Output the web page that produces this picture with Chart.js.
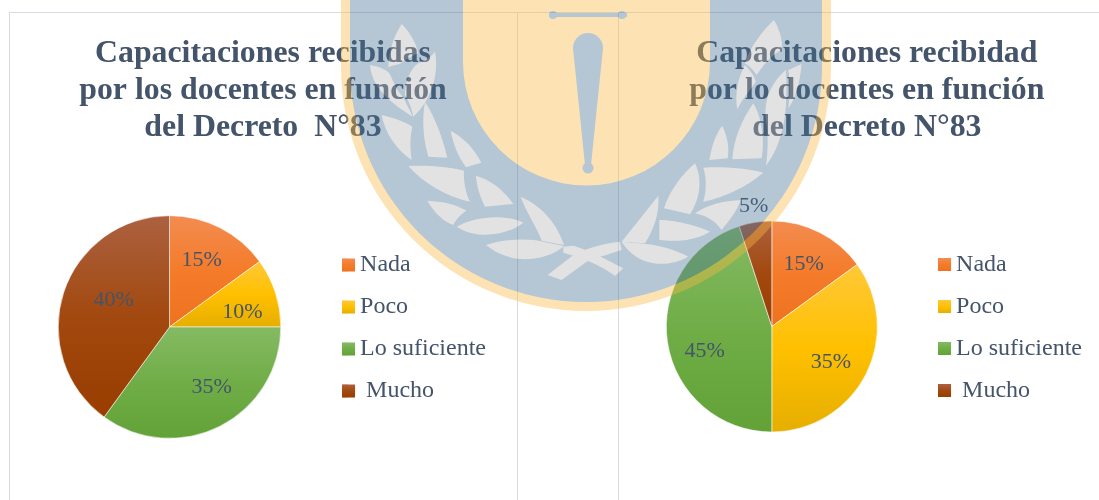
<!DOCTYPE html>
<html><head><meta charset="utf-8">
<script src="https://cdn.jsdelivr.net/npm/chart.js@4"></script>
<style>
html,body{margin:0;padding:0;background:#fff;width:1099px;height:500px;overflow:hidden}
#stage{position:relative;width:1099px;height:500px;overflow:hidden}
canvas{position:absolute;display:block}
.ln{position:absolute;background:#d5dce4}
svg{position:absolute;left:0;top:0;opacity:.4;pointer-events:none}
</style></head><body>
<div id="stage">
<div class="ln" style="left:9px;top:12px;width:1090px;height:1px"></div>
<div class="ln" style="left:9px;top:12px;width:1px;height:488px"></div>
<div class="ln" style="left:517px;top:12px;width:1px;height:488px"></div>
<div class="ln" style="left:618px;top:12px;width:1px;height:488px"></div>
<canvas id="c1" width="508" height="488" style="left:9px;top:12px"></canvas>
<canvas id="c2" width="481" height="488" style="left:618px;top:12px"></canvas>
<svg width="1099" height="500" viewBox="0 0 1099 500">
<path fill="#fab943" d="M341 0V66A245 245 0 0 0 831 66V0Z"/>
<path fill="#467093" d="M350 0V66A236 236 0 0 0 822 66V0H710V62A123.5 123.5 0 0 1 463 62V0Z"/>
<g fill="#467093">
<rect x="549" y="13" width="78" height="4"/><circle cx="553" cy="15" r="4"/><circle cx="622" cy="15" r="4"/>
<path d="M573 48A15 15 0 0 1 603 48L591 165H585Z"/><circle cx="588" cy="168" r="5.5"/>
</g>
<g fill="#b6b6b6" transform="translate(340 0) scale(.3333)">
<path d="M125 345C165 355 195 365 217 380C210 410 210 445 215 480C170 450 135 400 125 345Z"/>
<path d="M255 305C285 350 310 420 322 473L265 470C250 420 245 360 255 305Z"/>
<path d="M332 392C375 415 405 450 424 488L378 502C355 470 340 435 332 392Z"/>
<path d="M205 498C265 495 325 500 372 512C370 545 378 580 390 605C320 590 250 550 205 498Z"/>
<path d="M408 527C455 540 495 575 520 612L435 620C420 590 410 560 408 527Z"/>
<path d="M262 603C310 603 350 615 380 632C365 640 350 655 340 675C310 665 285 640 262 603Z"/>
<path d="M350 680C400 650 490 640 550 668C510 700 420 725 350 680Z"/>
<path d="M542 590C600 615 650 665 672 735L605 722C590 680 560 640 542 590Z"/>
<path d="M438 735C500 715 570 715 610 725L672 738C640 770 530 810 438 735Z"/>
<path d="M185 72C205 90 230 130 235 160C220 165 195 180 190 185C180 195 155 195 145 202C145 160 160 110 185 72Z"/>
<path d="M90 195C115 200 135 205 148 220C158 240 175 280 190 292C200 315 210 330 218 350C170 320 95 270 90 195Z"/>
<path d="M285 155C298 220 275 300 220 350C215 325 205 300 195 285C195 250 210 205 235 190C255 180 275 170 285 155Z"/>
<path d="M1302 60C1320 90 1330 125 1325 150C1295 165 1270 195 1250 225C1240 210 1230 200 1215 190C1230 140 1270 90 1302 60Z"/>
<path d="M1385 192C1380 250 1365 300 1345 325C1350 290 1350 240 1345 210Z"/>
<path d="M1338 210C1342 290 1345 410 1278 498C1285 450 1285 400 1278 360C1270 300 1295 245 1338 210Z"/>
<path d="M1240 310C1265 350 1275 420 1265 475L1177 478C1180 420 1205 360 1240 310Z"/>
<path d="M1147 377C1165 415 1168 450 1163 475L1108 480C1115 440 1125 405 1147 377Z"/>
<path d="M1215 195C1230 210 1245 230 1248 245C1230 270 1205 300 1192 328C1185 290 1190 240 1215 195Z"/>
<path d="M1090 503C1150 500 1220 505 1270 518C1220 560 1160 590 1090 605C1100 570 1100 535 1090 503Z"/>
<path d="M1065 490C1085 530 1085 590 1050 643L972 625C990 570 1025 525 1065 490Z"/>
<path d="M1203 600C1150 602 1100 615 1065 640C1110 650 1130 670 1145 690C1165 665 1190 635 1203 600Z"/>
<path d="M958 660C1010 660 1080 680 1110 695C1060 725 1000 725 958 720Z"/>
<path d="M955 587C960 640 940 690 915 730L845 725Z"/>
<path d="M845 725C880 730 960 725 1045 770C990 800 900 810 845 725Z"/>
<path d="M670 740L700 737C760 755 810 785 850 805L825 828C790 800 745 785 740 780L670 758Z"/>
<path d="M623 825L700 765C740 745 790 730 840 725L845 750C800 765 780 770 740 785L665 840Z"/>
</g>
</svg>
</div>
<script>
const categories = ['Nada', 'Poco', 'Lo suficiente', ' Mucho'];
const valuesLeft = [15, 10, 35, 40];
const valuesRight = [15, 35, 45, 5];
const titleLeft = ['Capacitaciones recibidas', 'por los docentes en función', 'del Decreto  N°83'];
const titleRight = ['Capacitaciones recibidad', 'por lo docentes en función', 'del Decreto N°83'];
const gradientStops = [
  ['#F38C50', '#F47B2A', '#EE7320'],
  ['#FFC838', '#FFC000', '#E6AE00'],
  ['#85BA63', '#70AD47', '#62A237'],
  ['#AC6140', '#A2490F', '#993D00']
];
const labelOffsetsLeft = [[7, -17], [20, 2], [17, 11], [-3, -10]];
const labelOffsetsRight = [[8, -15], [12, 12], [-15, 16], [-10, -68]];
const FONT = '"Liberation Serif", "Times New Roman", serif';
const TEXT = '#44546A';

function makeGrad(ctx, y0, y1, stops) {
  const g = ctx.createLinearGradient(0, y0, 0, y1);
  g.addColorStop(0, stops[0]); g.addColorStop(.5, stops[1]); g.addColorStop(1, stops[2]);
  return g;
}
function sliceFill(c) {
  const chart = c.chart, data = chart.data.datasets[0].data, i = c.dataIndex, area = chart.chartArea;
  if (!area) return gradientStops[i][1];
  const total = data.reduce((a, b) => a + b, 0);
  const before = data.slice(0, i).reduce((a, b) => a + b, 0);
  const a0 = before / total * 2 * Math.PI, a1 = (before + data[i]) / total * 2 * Math.PI;
  const r = c.dataset.radius, cy = (area.top + area.bottom) / 2;
  const ys = [0, -Math.cos(a0), -Math.cos(a1)];
  if (a0 <= 0 && a1 >= 0) ys.push(-1);
  if (a0 <= Math.PI && a1 >= Math.PI) ys.push(1);
  return makeGrad(chart.ctx, cy + r * Math.min(...ys), cy + r * Math.max(...ys), gradientStops[i]);
}
const extras = {
  id: 'extras',
  afterLayout(chart) {
    const dx = chart.options.plugins.extras.titleShift;
    chart.titleBlock.left += dx; chart.titleBlock.right += dx;
    chart.legend.top += 1; chart.legend.bottom += 1;
  },
  afterDraw(chart) {
    const ctx = chart.ctx, meta = chart.getDatasetMeta(0), ds = chart.data.datasets[0];
    ctx.save();
    ctx.font = '22px ' + FONT; ctx.fillStyle = TEXT;
    ctx.textAlign = 'center'; ctx.textBaseline = 'middle';
    meta.data.forEach((arc, i) => {
      const p = arc.tooltipPosition(), o = ds.labelOffsets[i];
      ctx.fillText(ds.data[i] + '%', p.x + o[0], p.y + o[1]);
    });
    chart.legend.legendHitBoxes.forEach((h, i) => {
      const top = h.top + (h.height - 13) / 2;
      ctx.fillStyle = makeGrad(ctx, top, top + 13, gradientStops[i]);
      ctx.fillRect(h.left, top, 13, 13);
    });
    ctx.restore();
  }
};
function pie(id, values, title, offsets, radius, pad, titlePad, titleShift) {
  return new Chart(document.getElementById(id), {
    type: 'pie',
    data: { labels: categories, datasets: [{
      data: values, radius, labelOffsets: offsets,
      backgroundColor: sliceFill, borderWidth: 1, borderColor: 'rgba(255,255,255,.55)'
    }]},
    options: {
      responsive: false, animation: false,
      layout: { padding: pad },
      plugins: {
        extras: { titleShift },
        tooltip: { enabled: false },
        title: { display: true, text: title, color: TEXT, padding: titlePad,
          font: { family: FONT, size: 31.8, weight: 'bold', lineHeight: 37 / 31.8 } },
        legend: { position: 'right', fullSize: false, onClick: null,
          labels: { color: TEXT, boxWidth: 6, boxHeight: 13, padding: 18,
            font: { family: FONT, size: 24 } } }
      }
    },
    plugins: [extras]
  });
}
pie('c1', valuesLeft, titleLeft, labelOffsetsLeft, 111.3, { left: 6, right: 21 }, { top: 23, bottom: 8 }, 7.5);
pie('c2', valuesRight, titleRight, labelOffsetsRight, 105.5, { left: 5.6, right: 7 }, { top: 23, bottom: 7 }, 9);
</script>
</body></html>
